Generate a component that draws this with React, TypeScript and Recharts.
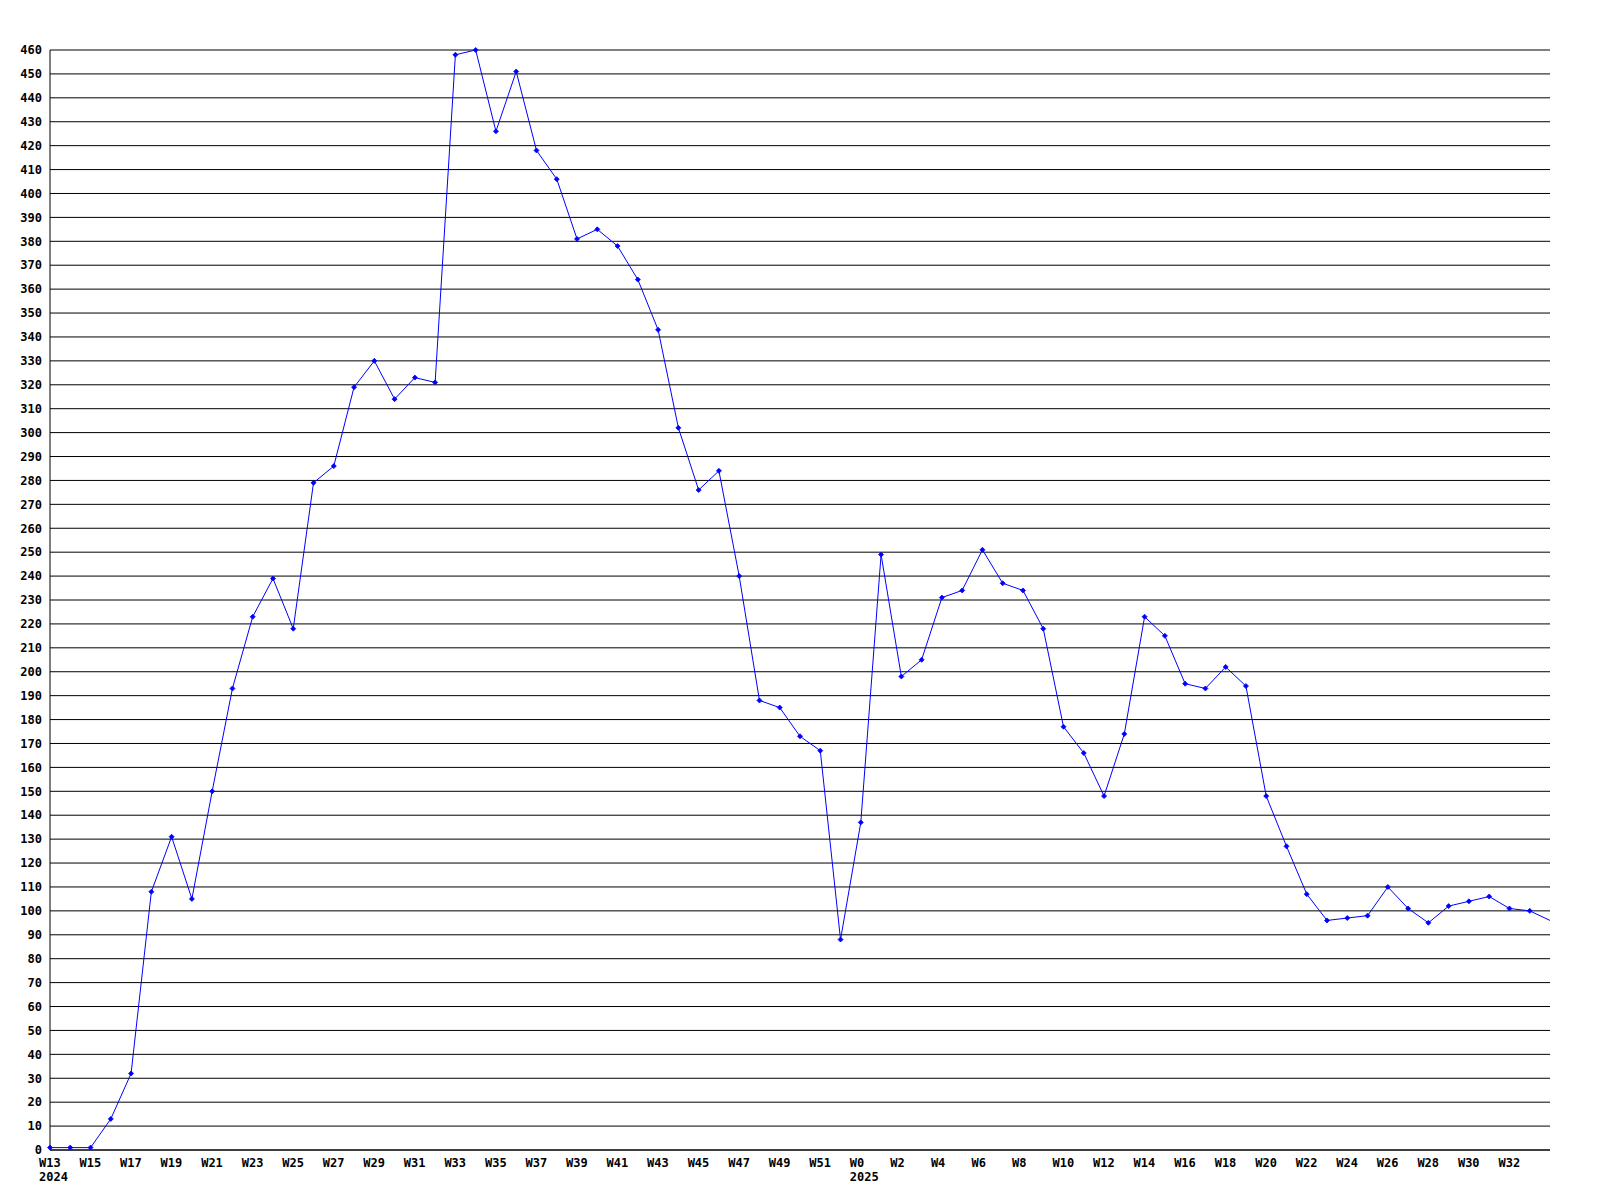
import { LineChart, Line, XAxis, YAxis, CartesianGrid } from 'recharts';

// week labels, 2024 runs W13..W52, 2025 runs W0..W34
const weeks2024 = [
  'W13', 'W14', 'W15', 'W16', 'W17', 'W18', 'W19', 'W20', 'W21', 'W22',
  'W23', 'W24', 'W25', 'W26', 'W27', 'W28', 'W29', 'W30', 'W31', 'W32',
  'W33', 'W34', 'W35', 'W36', 'W37', 'W38', 'W39', 'W40', 'W41', 'W42',
  'W43', 'W44', 'W45', 'W46', 'W47', 'W48', 'W49', 'W50', 'W51', 'W52',
];
const weeks2025 = [
  'W0', 'W1', 'W2', 'W3', 'W4', 'W5', 'W6', 'W7', 'W8', 'W9',
  'W10', 'W11', 'W12', 'W13', 'W14', 'W15', 'W16', 'W17', 'W18', 'W19',
  'W20', 'W21', 'W22', 'W23', 'W24', 'W25', 'W26', 'W27', 'W28', 'W29',
  'W30', 'W31', 'W32', 'W33', 'W34',
];

const values2024 = [
  1, 1, 1, 13, 32, 108, 131, 105, 150, 193,
  223, 239, 218, 279, 286, 319, 330, 314, 323, 321,
  458, 460, 426, 451, 418, 406, 381, 385, 378, 364,
  343, 302, 276, 284, 240, 188, 185, 173, 167, 88,
];
const values2025 = [
  137, 249, 198, 205, 231, 234, 251, 237, 234, 218,
  177, 166, 148, 174, 223, 215, 195, 193, 202, 194,
  148, 127, 107, 96, 97, 98, 110, 101, 95, 102,
  104, 106, 101, 100, 96,
];

const yTicks = [
  0, 10, 20, 30, 40, 50, 60, 70, 80, 90,
  100, 110, 120, 130, 140, 150, 160, 170, 180, 190,
  200, 210, 220, 230, 240, 250, 260, 270, 280, 290,
  300, 310, 320, 330, 340, 350, 360, 370, 380, 390,
  400, 410, 420, 430, 440, 450, 460,
];

const rows = [
  ...weeks2024.map((w, i) => ({ key: `2024-${w}`, week: w, year: '2024', first: i === 0, value: values2024[i] })),
  ...weeks2025.map((w, i) => ({ key: `2025-${w}`, week: w, year: '2025', first: i === 0, value: values2025[i] })),
];

// every second week gets a label, last point sits on the edge without one
const xTicks = rows.filter((_, i) => i % 2 === 0 && i < rows.length - 1).map((r) => r.key);

const FONT = '"DejaVu Sans Mono", "Liberation Mono", monospace';

function WeekTick(props: any) {
  const { x, y, payload } = props;
  const row = rows.find((r) => r.key === payload.value);
  if (!row) return null;
  // labels start a little left of the point, not centred
  const lx = x - 11;
  return (
    <g>
      <text x={lx} y={y} dy="0.71em" textAnchor="start" fontFamily={FONT} fontSize={12} fontWeight="bold" fill="#000">
        {row.week}
      </text>
      {row.first && (
        <text x={lx} y={y + 14} dy="0.71em" textAnchor="start" fontFamily={FONT} fontSize={12} fontWeight="bold" fill="#000">
          {row.year}
        </text>
      )}
    </g>
  );
}

function Marker(props: any) {
  const { cx, cy, index } = props;
  if (cx == null || cy == null || index === rows.length - 1) return <g key={`m-${index}`} />;
  const r = 2.5;
  return (
    <path
      key={`m-${index}`}
      d={`M${cx - r},${cy} L${cx},${cy - r} L${cx + r},${cy} L${cx},${cy + r} Z`}
      fill="#0000ff"
      stroke="#0000ff"
      strokeWidth={0.8}
    />
  );
}

export default function App() {
  return (
    <div style={{ position: 'absolute', left: 0, top: 0, background: '#fff' }}>
      <LineChart width={1600} height={1200} data={rows} margin={{ top: 50, right: 50, bottom: 0, left: 10 }}>
        <CartesianGrid horizontal vertical={false} stroke="#000" strokeWidth={1} />
        <XAxis
          dataKey="key"
          scale="point"
          ticks={xTicks}
          interval={0}
          height={50}
          tickLine={false}
          axisLine={{ stroke: '#000' }}
          tick={<WeekTick />}
        />
        <YAxis
          domain={[0, 460]}
          ticks={yTicks}
          interval={0}
          width={40}
          tickLine={false}
          axisLine={{ stroke: '#000' }}
          tick={{ fontFamily: FONT, fontSize: 12, fontWeight: 'bold', fill: '#000' }}
        />
        <Line
          type="linear"
          dataKey="value"
          stroke="#0000ff"
          strokeWidth={1}
          dot={<Marker />}
          activeDot={false}
          isAnimationActive={false}
        />
      </LineChart>
    </div>
  );
}
